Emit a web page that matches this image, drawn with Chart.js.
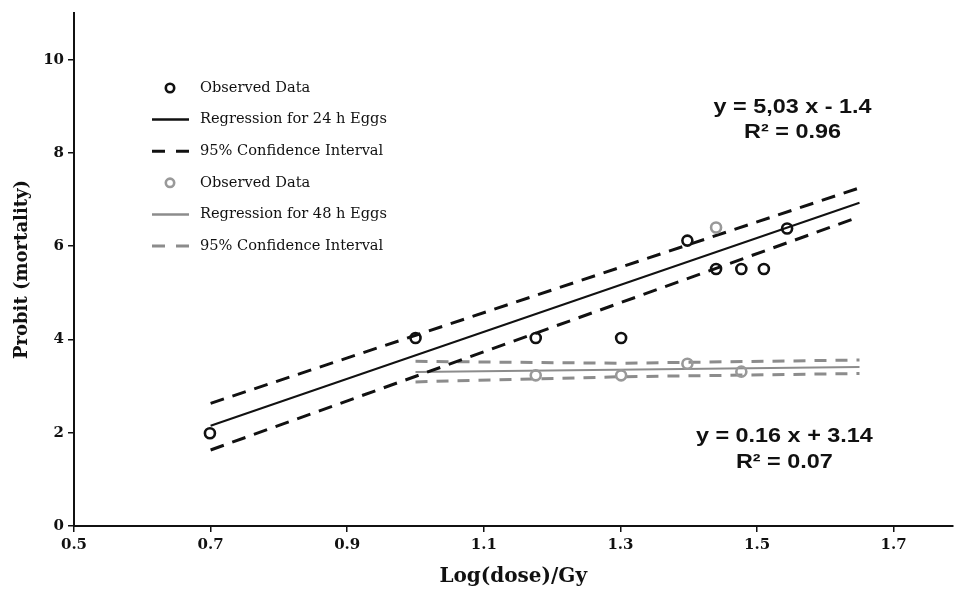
<!DOCTYPE html>
<html>
<head>
<meta charset="utf-8">
<script src="https://cdn.jsdelivr.net/npm/chart.js@4/dist/chart.umd.min.js"></script>
<style>
html,body{margin:0;padding:0;background:#fff;}
#wrap{width:960px;height:593px;position:relative;}
</style>
</head>
<body>
<div id="wrap"><canvas id="c" width="960" height="593"></canvas></div>
<script>
// ---- data ----
const obs24X = [0.699, 1.0, 1.176, 1.301, 1.398, 1.44, 1.477, 1.51, 1.544];
const obs24Y = [1.99, 4.03, 4.03, 4.03, 6.12, 5.51, 5.51, 5.51, 6.38];
const obs48X = [1.176, 1.301, 1.398, 1.44, 1.477];
const obs48Y = [3.23, 3.23, 3.48, 6.40, 3.31];

const reg24X = [0.7, 1.65];
const reg24Y = [2.15, 6.93];
const ci24Upper = [2.63, 7.25];
const ci24Lower = [1.63, 6.63];

const reg48X = [1.0, 1.65];
const reg48Y = [3.30, 3.41];
const ci48X = [1.0, 1.3, 1.65];
const ci48Upper = [3.53, 3.49, 3.56];
const ci48Lower = [3.09, 3.20, 3.27];

const xTicks = [0.5, 0.7, 0.9, 1.1, 1.3, 1.5, 1.7];
const yTicks = [0, 2, 4, 6, 8, 10];

const legendLabels = ["Observed Data", "Regression for 24 h Eggs", "95% Confidence Interval",
                      "Observed Data", "Regression for 48 h Eggs", "95% Confidence Interval"];
const eq24 = ["y = 5,03 x - 1.4", "R\u00b2 = 0.96"];
const eq48 = ["y = 0.16 x + 3.14", "R\u00b2 = 0.07"];

// ---- helpers ----
const pts = (xs, ys) => xs.map((x, i) => ({x: x, y: ys[i]}));
const BLACK = '#111111', GRAY = '#8c8c8c', GRAYPT = '#999999';

const datasets = [
  {label: legendLabels[0], data: pts(obs24X, obs24Y), showLine: false, pointRadius: 5,
   pointBorderWidth: 2.6, pointBorderColor: BLACK, pointBackgroundColor: 'rgba(255,255,255,0)', order: 0},
  {label: legendLabels[1], data: pts(reg24X, reg24Y), showLine: true, borderColor: BLACK,
   borderWidth: 2, pointRadius: 0, order: 2},
  {label: legendLabels[2], data: pts(reg24X, ci24Upper), showLine: true, borderColor: BLACK,
   borderWidth: 3, borderDash: [14, 9], pointRadius: 0, order: 2},
  {label: '_ci24lower', data: pts(reg24X, ci24Lower), showLine: true, borderColor: BLACK,
   borderWidth: 3, borderDash: [14, 9], pointRadius: 0, order: 2},
  {label: legendLabels[3], data: pts(obs48X, obs48Y), showLine: false, pointRadius: 5,
   pointBorderWidth: 2.6, pointBorderColor: GRAYPT, pointBackgroundColor: 'rgba(255,255,255,0)', order: 1},
  {label: legendLabels[4], data: pts(reg48X, reg48Y), showLine: true, borderColor: GRAY,
   borderWidth: 2, pointRadius: 0, order: 3},
  {label: legendLabels[5], data: pts(ci48X, ci48Upper), showLine: true, borderColor: GRAY,
   borderWidth: 3, borderDash: [12, 9], pointRadius: 0, order: 3},
  {label: '_ci48lower', data: pts(ci48X, ci48Lower), showLine: true, borderColor: GRAY,
   borderWidth: 3, borderDash: [12, 9], pointRadius: 0, order: 3}
];

// custom legend inside the plot area
const legendPlugin = {
  id: 'innerLegend',
  afterDraw(chart) {
    const ctx = chart.ctx;
    const area = chart.chartArea;
    const x0 = area.left + 78, y0 = 88, step = 31.6;
    const ds = chart.data.datasets.filter(d => !d.label.startsWith('_'));
    ctx.save();
    ctx.font = '14.6px "DejaVu Serif"';
    ctx.textBaseline = 'middle';
    ds.forEach((d, i) => {
      const y = y0 + i * step;
      if (!d.showLine) {
        ctx.beginPath();
        ctx.arc(x0 + 18, y, 4.2, 0, Math.PI * 2);
        ctx.lineWidth = 2.6;
        ctx.strokeStyle = d.pointBorderColor;
        ctx.stroke();
      } else {
        ctx.beginPath();
        ctx.lineWidth = d.borderWidth === 2 ? 2.5 : 3;
        ctx.strokeStyle = d.borderColor;
        if (d.borderDash) {
          ctx.moveTo(x0, y); ctx.lineTo(x0 + 13, y);
          ctx.moveTo(x0 + 24, y); ctx.lineTo(x0 + 37, y);
        } else {
          ctx.moveTo(x0, y); ctx.lineTo(x0 + 37, y);
        }
        ctx.stroke();
      }
      ctx.fillStyle = '#111';
      ctx.fillText(d.label, x0 + 48, y);
    });
    ctx.restore();
  }
};

const eqPlugin = {
  id: 'equations',
  afterDraw(chart) {
    const ctx = chart.ctx;
    const xs = chart.scales.x, ys = chart.scales.y;
    ctx.save();
    ctx.font = 'bold 20px "Liberation Sans", Arial, sans-serif';
    ctx.fillStyle = '#111';
    ctx.textAlign = 'center';
    ctx.textBaseline = 'middle';
    const sx = 1.17;
    const put = (lines, cx, cy1, cy2) => {
      const px = xs.getPixelForValue(cx);
      [[lines[0], cy1], [lines[1], cy2]].forEach(([t, cy]) => {
        ctx.save();
        ctx.translate(px, ys.getPixelForValue(cy));
        ctx.scale(sx, 1);
        ctx.fillText(t, 0, 0);
        ctx.restore();
      });
    };
    put(eq24, 1.552, 8.98, 8.43);
    put(eq48, 1.54, 1.91, 1.36);
    ctx.restore();
  }
};

new Chart(document.getElementById('c'), {
  type: 'scatter',
  data: {datasets: datasets},
  plugins: [legendPlugin, eqPlugin],
  options: {
    responsive: false,
    animation: false,
    layout: {padding: {top: 9, right: 2, left: 8, bottom: 0}},
    plugins: {legend: {display: false}, tooltip: {enabled: false}},
    scales: {
      x: {
        type: 'linear', min: 0.5, max: 1.786,
        afterBuildTicks: s => { s.ticks = xTicks.map(v => ({value: v})); },
        afterFit: s => { s.height = 67; },
        grid: {display: true, drawOnChartArea: false, drawTicks: true, tickLength: 6, color: '#111', lineWidth: 1.5},
        border: {display: true, color: '#111', width: 2},
        ticks: {color: '#111', padding: 4, font: {family: '"DejaVu Serif"', weight: 'bold', size: 15},
                callback: v => v.toFixed(1)},
        title: {display: true, text: 'Log(dose)/Gy', color: '#111',
                font: {family: '"DejaVu Serif"', weight: 'bold', size: 20}, padding: {top: 4}}
      },
      y: {
        type: 'linear', min: 0, max: 11,
        afterBuildTicks: s => { s.ticks = yTicks.map(v => ({value: v})); },
        afterFit: s => { s.width = 66; },
        grid: {display: true, drawOnChartArea: false, drawTicks: true, tickLength: 6, color: '#111', lineWidth: 1.5},
        border: {display: true, color: '#111', width: 2},
        ticks: {color: '#111', padding: 4, font: {family: '"DejaVu Serif"', weight: 'bold', size: 15}},
        title: {display: true, text: 'Probit (mortality)', color: '#111',
                font: {family: '"DejaVu Serif"', weight: 'bold', size: 18}, padding: {bottom: 6}}
      }
    }
  }
});
</script>
</body>
</html>
